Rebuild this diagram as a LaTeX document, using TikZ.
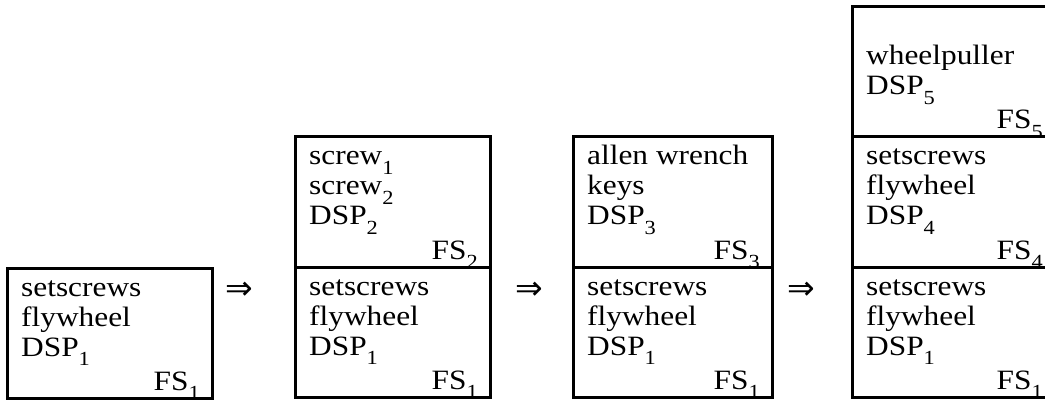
\documentclass[tikz,border=0pt]{standalone}
\usepackage{fontspec}
\setmainfont{Liberation Serif}[FakeStretch=1.12]
\newfontfamily\arrowfont{DejaVu Sans}

% lowered, smaller index as in DSP_1, FS_2
\newcommand\lowsub[1]{\raisebox{-0.34em}{\fontsize{20}{20}\selectfont #1}}

% one framed compartment of a stack:
% #1 name, #2 left, #3 top, #4 width, #5--#7 the three text lines, #8 FS index
\newcommand\compart[8]{%
  \begin{scope}
    \clip (#2,#3) rectangle ++(#4,130);
    \node[word] (#1-a) at (#2+14,#3+28) {#5};
    \node[word] (#1-b) at (#2+14,#3+58) {#6};
    \node[word] (#1-c) at (#2+14,#3+88) {#7};
    \node[tag]  (#1-fs) at (#2+#4-12,#3+122) {FS\lowsub{#8}};
  \end{scope}
  \node[frame, minimum width=#4pt, minimum height=130pt] (#1) at (#2,#3) {};
}

\begin{document}
\begin{tikzpicture}[x=1pt,y=-1pt,
  frame/.style={draw, line width=3pt, inner sep=0pt, outer sep=0pt, anchor=north west},
  word/.style={anchor=base west, inner sep=0pt, font=\fontsize{28}{30}\selectfont},
  tag/.style={anchor=base east, inner sep=0pt, font=\fontsize{28}{30}\selectfont},
  implies/.style={inner sep=0pt, font=\arrowfont\fontsize{33}{33}\selectfont}]

\useasboundingbox (0,0) rectangle (1045,401);
\clip (0,0) rectangle (1045,401);

% stack 1
\compart{s1}{7}{268}{205}{setscrews}{flywheel}{DSP\lowsub{1}}{1}

% stack 2
\compart{s2top}{295}{137}{195}{screw\lowsub{1}}{screw\lowsub{2}}{DSP\lowsub{2}}{2}
\compart{s2low}{295}{267}{195}{setscrews}{flywheel}{DSP\lowsub{1}}{1}

% stack 3
\compart{s3top}{573}{137}{199}{allen wrench}{keys}{DSP\lowsub{3}}{3}
\compart{s3low}{573}{267}{199}{setscrews}{flywheel}{DSP\lowsub{1}}{1}

% stack 4
\compart{s4top}{852}{7}{203}{}{wheelpuller}{DSP\lowsub{5}}{5}
\compart{s4mid}{852}{137}{203}{setscrews}{flywheel}{DSP\lowsub{4}}{4}
\compart{s4low}{852}{267}{203}{setscrews}{flywheel}{DSP\lowsub{1}}{1}

% transitions between stacks
\node[implies] (t1) at (239,291) {⇒};
\node[implies] (t2) at (529,291) {⇒};
\node[implies] (t3) at (801,291) {⇒};
\end{tikzpicture}
\end{document}
